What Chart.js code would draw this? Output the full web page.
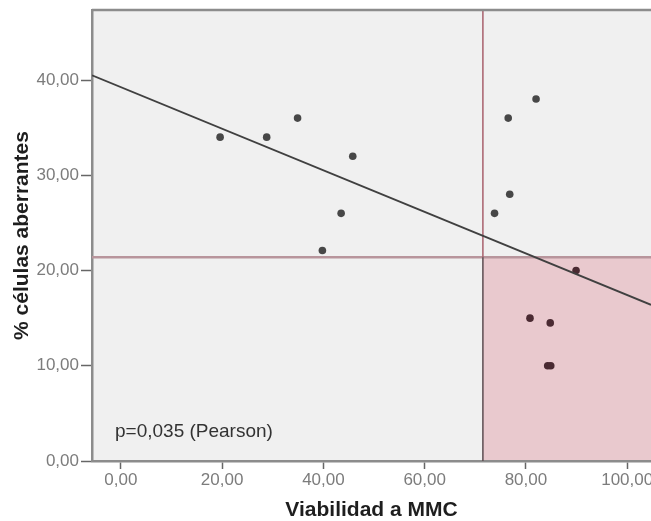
<!DOCTYPE html>
<html>
<head>
<meta charset="utf-8">
<script src="https://cdn.jsdelivr.net/npm/chart.js@4/dist/chart.umd.min.js"></script>
<style>
  html, body { margin: 0; padding: 0; background: #fff; }
  #wrap { width: 651px; height: 521px; position: relative; }
</style>
</head>
<body>
<div id="wrap"><canvas id="grafico"></canvas></div>
<script>
// datos
const viabilidad = [19.6, 28.8, 34.9, 39.8, 45.8, 43.5, 76.5, 82.0, 76.8, 73.8, 89.9, 80.8, 84.8, 84.3, 84.9];
const celulas    = [34.0, 34.0, 36.0, 22.1, 32.0, 26.0, 36.0, 38.0, 28.0, 26.0, 20.0, 15.0, 14.5, 10.0, 10.0];

const xRange = [-5.7, 104.7];
const yRange = [0, 47.35];
const xTicks = [0, 20, 40, 60, 80, 100];
const yTicks = [0, 10, 20, 30, 40];

// recta de regresión (extremos)
const ajusteX = [-5.7, 104.7];
const ajusteY = [40.5, 16.4];

// líneas de corte
const corteX = 71.5;
const corteY = 21.4;

const anotacion = "p=0,035 (Pearson)";

const fmt = v => Number(v).toFixed(2).replace(".", ",");

const puntos = viabilidad.map((x, i) => ({ x, y: celulas[i] }));
const ajuste = ajusteX.map((x, i) => ({ x, y: ajusteY[i] }));

const fondo = {
  id: "fondo",
  beforeDraw(chart) {
    const { ctx, chartArea: a, scales: { x, y } } = chart;
    const cx = x.getPixelForValue(corteX);
    const cy = y.getPixelForValue(corteY);
    const y0 = y.getPixelForValue(0);
    ctx.save();
    ctx.fillStyle = "#f0f0f0";
    ctx.fillRect(a.left, a.top, a.right - a.left, a.bottom - a.top);
    // cuadrante sombreado
    ctx.fillStyle = "#e9c9ce";
    ctx.fillRect(cx, cy, a.right - cx, y0 - cy);
    ctx.restore();
  },
  beforeDatasetsDraw(chart) {
    const { ctx, chartArea: a, scales: { x, y } } = chart;
    const cx = x.getPixelForValue(corteX);
    const cy = y.getPixelForValue(corteY);
    const y0 = y.getPixelForValue(0);
    ctx.save();
    // línea horizontal
    ctx.strokeStyle = "#b8959c";
    ctx.lineWidth = 2.5;
    ctx.beginPath();
    ctx.moveTo(a.left, cy);
    ctx.lineTo(a.right, cy);
    ctx.stroke();
    // línea vertical (parte superior rojiza)
    ctx.strokeStyle = "#a8606c";
    ctx.lineWidth = 1.5;
    ctx.beginPath();
    ctx.moveTo(cx, a.top);
    ctx.lineTo(cx, cy);
    ctx.stroke();
    // borde izquierdo del cuadrante
    ctx.strokeStyle = "#5c4c50";
    ctx.beginPath();
    ctx.moveTo(cx, cy);
    ctx.lineTo(cx, y0);
    ctx.stroke();
    // borde superior
    ctx.strokeStyle = "#8c8c8c";
    ctx.lineWidth = 2.5;
    ctx.beginPath();
    ctx.moveTo(a.left, a.top);
    ctx.lineTo(a.right, a.top);
    ctx.stroke();
    ctx.restore();
  },
  afterDatasetsDraw(chart) {
    const { ctx, chartArea: a } = chart;
    ctx.save();
    ctx.fillStyle = "#333";
    ctx.font = "19px 'Liberation Sans', Arial, sans-serif";
    ctx.textBaseline = "middle";
    ctx.fillText(anotacion, a.left + 23, a.bottom - 29);
    ctx.restore();
  }
};

new Chart(document.getElementById("grafico"), {
  type: "scatter",
  data: {
    datasets: [
      {
        type: "line",
        data: ajuste,
        borderColor: "#404040",
        borderWidth: 1.8,
        pointRadius: 0,
        fill: false
      },
      {
        data: puntos,
        pointRadius: 3.8,
        pointBorderWidth: 0,
        pointBackgroundColor: c => {
          const p = c.raw;
          return p && p.x > corteX && p.y < corteY ? "#4a2a32" : "#474747";
        }
      }
    ]
  },
  options: {
    responsive: true,
    maintainAspectRatio: false,
    animation: false,
    layout: { autoPadding: false, padding: { top: 10, right: 0, left: 0, bottom: 0 } },
    plugins: { legend: { display: false }, tooltip: { enabled: false } },
    scales: {
      x: {
        type: "linear",
        min: xRange[0],
        max: xRange[1],
        afterBuildTicks: s => { s.ticks = xTicks.map(v => ({ value: v })); },
        afterFit: s => { s.height = 60; s.paddingLeft = 0; s.paddingRight = 0; },
        border: { color: "#8c8c8c", width: 2.5 },
        grid: { drawOnChartArea: false, tickLength: 8, tickColor: "#666", tickWidth: 1.5 },
        ticks: {
          padding: 1,
          color: "#7c7c7c",
          font: { family: "'Liberation Sans', Arial, sans-serif", size: 17 },
          callback: v => fmt(v)
        },
        title: {
          display: true,
          text: "Viabilidad a MMC",
          color: "#1e1e1e",
          padding: { top: 0, bottom: 0 },
          font: { family: "'Liberation Sans', Arial, sans-serif", size: 21, weight: "bold", lineHeight: 1 }
        }
      },
      y: {
        type: "linear",
        min: yRange[0],
        max: yRange[1],
        afterBuildTicks: s => { s.ticks = yTicks.map(v => ({ value: v })); },
        afterFit: s => { s.width = 92; s.paddingTop = 0; s.paddingBottom = 0; },
        border: { color: "#8c8c8c", width: 2.5 },
        grid: { drawOnChartArea: false, tickLength: 11, tickColor: "#666", tickWidth: 1.5 },
        ticks: {
          padding: 2,
          color: "#7c7c7c",
          font: { family: "'Liberation Sans', Arial, sans-serif", size: 17 },
          callback: v => fmt(v)
        },
        title: {
          display: true,
          text: "% células aberrantes",
          color: "#1e1e1e",
          padding: { top: 10, bottom: 0 },
          font: { family: "'Liberation Sans', Arial, sans-serif", size: 21, weight: "bold", lineHeight: 1.2 }
        }
      }
    }
  },
  plugins: [fondo]
});
</script>
</body>
</html>
